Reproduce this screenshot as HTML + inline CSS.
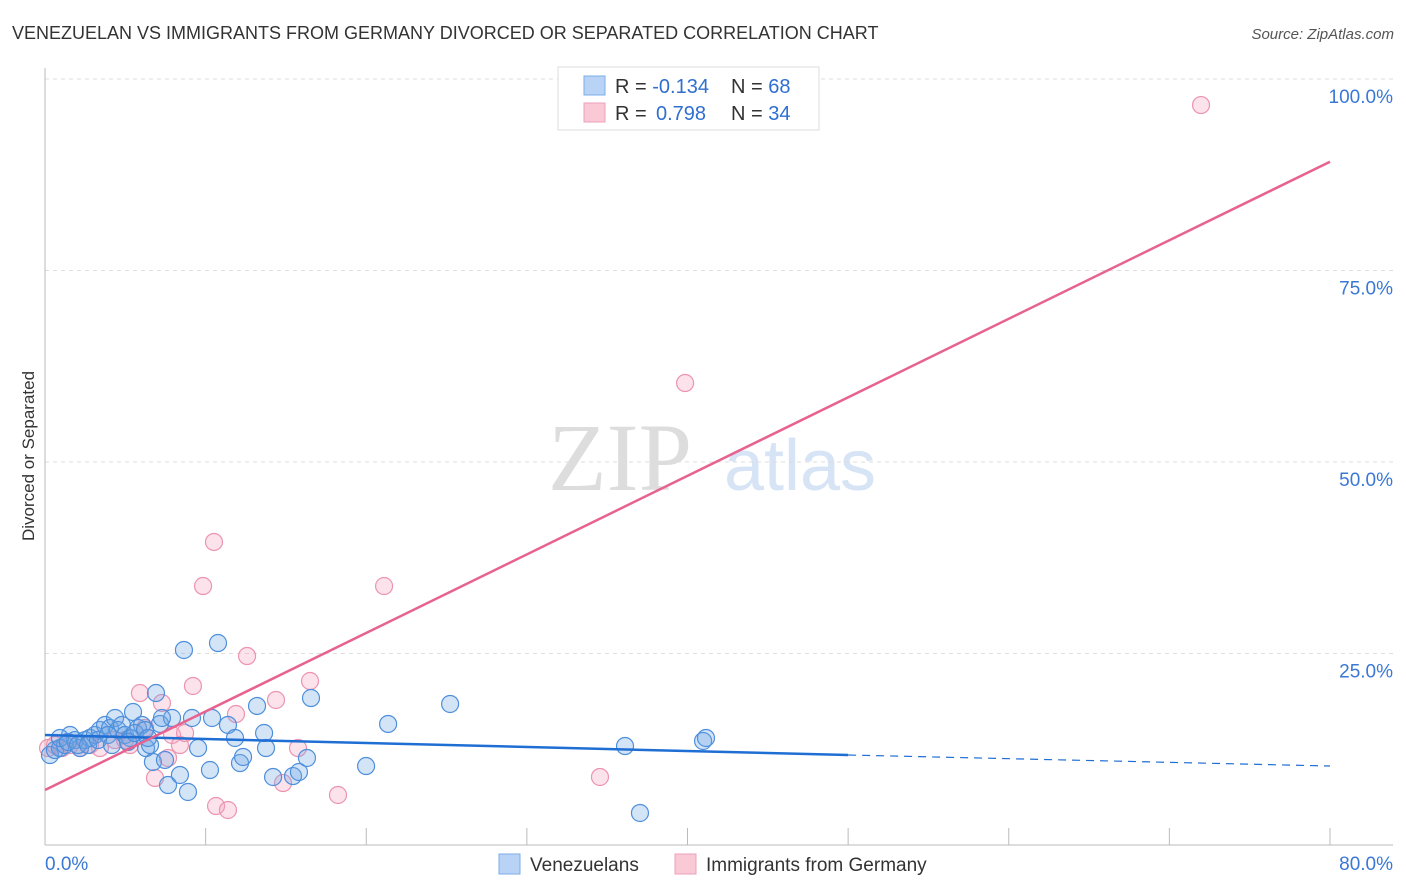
<!DOCTYPE html>
<html><head><meta charset="utf-8"><style>
body{margin:0;background:#fff;font-family:"Liberation Sans",sans-serif;}
svg{display:block}
</style></head><body>
<svg id="chart" width="1406" height="892" xmlns="http://www.w3.org/2000/svg">
<text x="12" y="39" font-size="18" fill="#333">VENEZUELAN VS IMMIGRANTS FROM GERMANY DIVORCED OR SEPARATED CORRELATION CHART</text>
<text x="1394" y="39" font-size="15" fill="#555" font-style="italic" text-anchor="end">Source: ZipAtlas.com</text>
<text x="620" y="490" font-size="96" fill="#ddd" font-family="Liberation Serif,serif" text-anchor="middle">ZIP</text>
<text x="800" y="490" font-size="72" fill="#d6e4f5" text-anchor="middle">atlas</text>
<g id="grid"></g><g id="axes"></g><g id="pts"></g><g id="lines"></g>
<text transform="translate(34,456) rotate(-90)" font-size="17" fill="#333" text-anchor="middle">Divorced or Separated</text>
<g>
<rect x="558" y="67" width="261" height="63" fill="#fff" stroke="#ddd"/>
<rect x="584" y="76" width="21" height="19" fill="#b8d3f5" stroke="#7aaee8"/>
<rect x="584" y="103" width="21" height="19" fill="#f9c9d6" stroke="#eea0b8"/>
<text x="615" y="93" font-size="20" fill="#333">R = <tspan fill="#2f6fd1">-0.134</tspan><tspan x="731">N = </tspan><tspan fill="#2f6fd1">68</tspan></text>
<text x="615" y="120" font-size="20" fill="#333">R = <tspan x="656" fill="#2f6fd1">0.798</tspan><tspan x="731">N = </tspan><tspan fill="#2f6fd1">34</tspan></text>
</g>
<g>
<rect x="499" y="854" width="21" height="20" fill="#b8d3f5" stroke="#7aaee8"/>
<text x="530" y="871" font-size="19" fill="#333">Venezuelans</text>
<rect x="675" y="854" width="21" height="20" fill="#f9c9d6" stroke="#eea0b8"/>
<text x="706" y="871" font-size="19" fill="#333">Immigrants from Germany</text>
</g>
</svg>
<script>
const yTicks=[25,50,75,100];
const yTickLabels=["25.0%","50.0%","75.0%","100.0%"];
const xTicks=[10,20,30,40,50,60,70,80];
const xLabels=["0.0%","80.0%"];
const blueX=[0.31,0.62,0.93,1.25,1.56,1.87,2.18,2.49,2.8,3.11,3.42,3.74,4.05,4.36,4.54,4.79,4.98,5.29,5.48,5.79,6.04,6.29,6.54,6.72,6.91,7.16,7.47,7.66,7.91,8.4,8.65,8.9,9.15,9.53,10.27,10.4,10.77,11.39,11.83,12.14,12.33,13.2,13.64,13.76,14.2,15.44,15.81,16.31,16.56,19.99,21.36,25.22,36.11,37.04,40.97,41.15,0.93,1.43,2.05,2.68,3.3,3.92,4.17,5.17,5.6,6.23,6.41,7.28];
const blueY=[11.75,12.4,12.66,13.05,14.36,13.7,12.66,13.7,13.97,14.36,15.01,15.67,15.27,16.58,15.01,15.67,14.36,13.97,17.36,15.27,15.67,12.66,13.05,10.84,19.84,15.8,11.1,7.83,16.58,9.14,25.46,6.92,16.58,12.66,9.79,16.58,26.37,15.67,13.97,10.7,11.49,18.15,14.62,12.66,8.88,9.0,9.53,11.36,19.19,10.31,15.8,18.41,12.92,4.18,13.58,13.97,13.97,13.45,13.05,13.05,13.7,14.36,13.05,13.45,14.62,15.01,13.97,16.58];
const pinkX=[0.19,0.62,1.06,1.56,2.18,2.8,3.42,4.36,4.98,5.29,5.91,6.23,6.85,7.28,7.66,7.91,8.4,8.72,9.21,9.84,10.52,10.65,11.39,11.89,12.58,14.38,14.82,15.75,16.5,18.24,21.11,34.55,39.85,71.97];
const pinkY=[12.66,13.05,12.66,13.05,12.66,13.05,12.66,13.7,13.7,13.05,19.84,15.27,8.75,18.54,11.36,14.36,13.05,14.62,20.76,33.81,39.56,5.09,4.57,17.1,24.67,18.93,8.09,12.66,21.41,6.53,33.81,8.88,60.31,96.6];
const blueTrendX=[0,50,80];
const blueTrendY=[14.36,11.75,10.31];
const pinkTrendX=[0,80];
const pinkTrendY=[7.18,89.2];
const NS="http://www.w3.org/2000/svg";
const X=v=>45+v*(1285/80);
const Y=v=>845-v*7.66;
function mk(tag,attrs,parent){const e=document.createElementNS(NS,tag);for(const k in attrs)e.setAttribute(k,attrs[k]);document.getElementById(parent).appendChild(e);return e;}
yTicks.forEach((t,i)=>{
 const l=mk('line',{x1:45,x2:1393,y1:Y(t),y2:Y(t),stroke:'#ddd','stroke-dasharray':'4,4'},'grid');
 
 
 const tx=mk('text',{x:1393,y:Y(t)+24,'font-size':19,fill:'#3a78d6','text-anchor':'end'},'grid');
 tx.textContent=yTickLabels[i];
 
 
});
const ax=mk('line',{x1:45,x2:45,y1:68,y2:845,stroke:'#bbb'},'axes');


const bx=mk('line',{x1:45,x2:1393,y1:845,y2:845,stroke:'#bbb'},'axes');


xTicks.forEach(t=>{
 const l=mk('line',{x1:X(t),x2:X(t),y1:828,y2:845,stroke:'#bbb'},'axes');
 
 
});
const xl0=mk('text',{x:45,y:870,'font-size':19,fill:'#3a78d6'},'axes');xl0.textContent=xLabels[0];


const xl1=mk('text',{x:1393,y:870,'font-size':19,fill:'#3a78d6','text-anchor':'end'},'axes');xl1.textContent=xLabels[1];


pinkX.forEach((v,i)=>{
 const c=mk('circle',{cx:X(v),cy:Y(pinkY[i]),r:8.5,fill:'rgba(244,160,188,0.3)',stroke:'#ec94b0','stroke-width':1.2},'pts');
 
 
});
blueX.forEach((v,i)=>{
 const c=mk('circle',{cx:X(v),cy:Y(blueY[i]),r:8.5,fill:'rgba(110,165,230,0.3)',stroke:'#4e8fdc','stroke-width':1.2},'pts');
 
 
});
const b1=mk('line',{x1:X(blueTrendX[0]),y1:Y(blueTrendY[0]),x2:X(blueTrendX[1]),y2:Y(blueTrendY[1]),stroke:'#1f6ed4','stroke-width':2.5},'lines');


const b2=mk('line',{x1:X(blueTrendX[1]),y1:Y(blueTrendY[1]),x2:X(blueTrendX[2]),y2:Y(blueTrendY[2]),stroke:'#1f6ed4','stroke-width':1.2,'stroke-dasharray':'8,6'},'lines');


const p1=mk('line',{x1:X(pinkTrendX[0]),y1:Y(pinkTrendY[0]),x2:X(pinkTrendX[1]),y2:Y(pinkTrendY[1]),stroke:'#e8628f','stroke-width':2.5},'lines');


</script>
</body></html>
